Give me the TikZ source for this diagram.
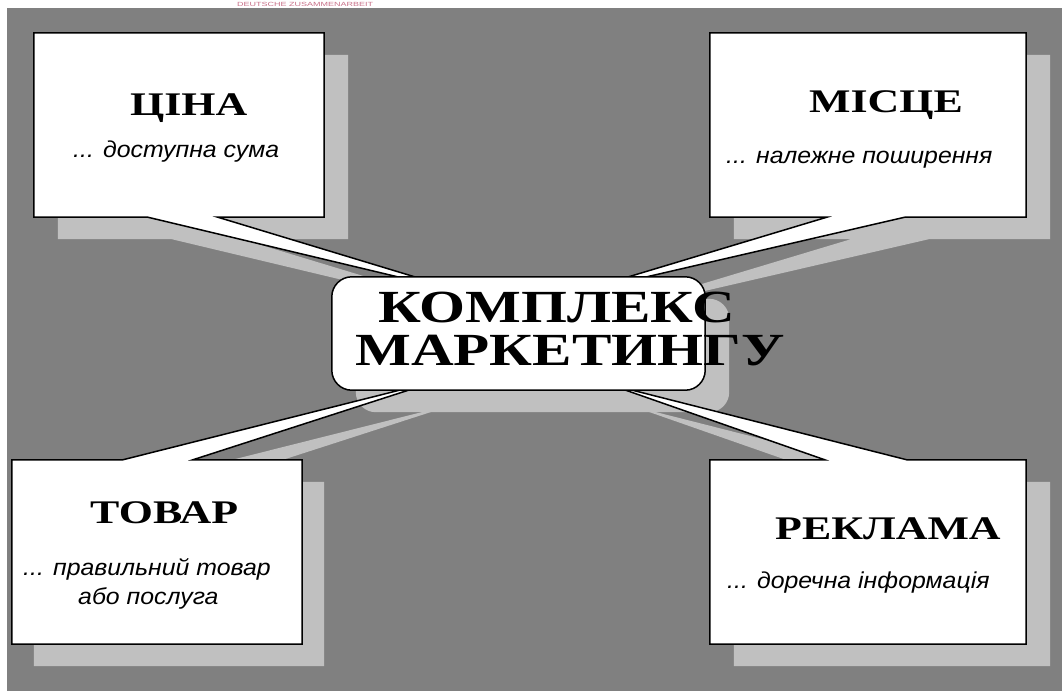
\documentclass[tikz,border=0pt]{standalone}
\usepackage{fontspec}
\usetikzlibrary{calc}
\newfontfamily\ttlfont{Liberation Serif}[FakeStretch=1.33]
\newfontfamily\ctrfont{Liberation Serif}[FakeStretch=1.285]
\newfontfamily\subfont{Liberation Sans}[FakeStretch=1.08]
\newfontfamily\hdrfont{Liberation Sans}[FakeStretch=1.5]
\definecolor{bgcol}{HTML}{808080}
\definecolor{shadecol}{HTML}{C0C0C0}
\definecolor{hdrcol}{HTML}{C87088}
% callout with the wedge on its lower edge
\newcommand\calloutdown[6]{%
  \path[#1] ($(#2.north west)+(#6)$) -- ($(#2.north east)+(#6)$) -- ($(#2.south east)+(#6)$)
    -- ($(#2.south west)+(#4,0)+(#6)$) -- ($(#5)+(#6)$) -- ($(#2.south west)+(#3,0)+(#6)$)
    -- ($(#2.south west)+(#6)$) -- cycle;}
% callout with the wedge on its upper edge
\newcommand\calloutup[6]{%
  \path[#1] ($(#2.south west)+(#6)$) -- ($(#2.south east)+(#6)$) -- ($(#2.north east)+(#6)$)
    -- ($(#2.north west)+(#4,0)+(#6)$) -- ($(#5)+(#6)$) -- ($(#2.north west)+(#3,0)+(#6)$)
    -- ($(#2.north west)+(#6)$) -- cycle;}
\begin{document}
\begin{tikzpicture}[x=1pt,y=-1pt,
  shadowfill/.style={fill=shadecol,draw=none},
  callout/.style={fill=white,draw=black,line width=1.5pt,line join=miter},
  boxnode/.style={draw=none,inner sep=0pt,minimum height=184pt},
  ttl/.style={anchor=base west,inner sep=0pt,font=\ttlfont\bfseries\fontsize{33}{36}\selectfont},
  ctr/.style={anchor=base west,inner sep=0pt,font=\ctrfont\bfseries\fontsize{46}{46}\selectfont},
  sub/.style={anchor=base west,inner sep=0pt,font=\subfont\itshape\fontsize{23}{29}\selectfont},
]
\useasboundingbox (0,0) rectangle (1062,691);
\fill[bgcol] (7,8) rectangle (1062,691);
\node[anchor=base west,inner sep=0pt,text=hdrcol,font=\hdrfont\fontsize{6}{6}\selectfont] (hdr) at (237,6.2) {DEUTSCHE ZUSAMMENARBEIT};

% box placeholders
\node[boxnode,minimum width=290pt] (cena) at (179,125) {};
\node[boxnode,minimum width=316pt] (misce) at (868,125) {};
\node[boxnode,minimum width=290pt] (tovar) at (157,552) {};
\node[boxnode,minimum width=316pt] (reklama) at (868,552) {};
\node[draw=none,inner sep=0pt,minimum width=373pt,minimum height=113pt] (kompl) at (518.5,333.5) {};
\coordinate (tc) at (478,296);
\coordinate (tm) at (568,295);
\coordinate (tt) at (440,380);
\coordinate (tr) at (608,384);

% shadows
\calloutdown{shadowfill}{cena}{114}{184}{tc}{24,22}
\calloutdown{shadowfill}{misce}{117}{195}{tm}{24,22}
\calloutup{shadowfill}{tovar}{111}{181}{tt}{22,22}
\calloutup{shadowfill}{reklama}{115}{197}{tr}{24,22}
\fill[shadecol,rounded corners=20pt] ($(kompl.south west)+(24,22)$) rectangle ($(kompl.north east)+(24,22)$);

% callouts
\calloutdown{callout}{cena}{114}{184}{tc}{0,0}
\calloutdown{callout}{misce}{117}{195}{tm}{0,0}
\calloutup{callout}{tovar}{111}{181}{tt}{0,0}
\calloutup{callout}{reklama}{115}{197}{tr}{0,0}
\draw[callout,rounded corners=20pt] (kompl.south west) rectangle (kompl.north east);

% texts
\node[ttl] (tcena) at (130,115) {ЦІНА};
\node[sub] (scena) at (73,157) {... доступна сума};
\node[ttl] (tmisce) at (809,112) {МІСЦЕ};
\node[sub] (smisce) at (726,163) {... належне поширення};
\node[ttl] (ttovar) at (90,523) {ТОВАР};
\node[sub] (stovar1) at (23,575) {... правильний товар};
\node[sub] (stovar2) at (78,604) {або послуга};
\node[ttl] (treklama) at (775,539) {РЕКЛАМА};
\node[sub] (sreklama) at (727,588) {... доречна інформація};
\node[ctr] (k1) at (378,322) {КОМПЛЕКС};
\node[ctr] (k2) at (355,365) {МАРКЕТИНГУ};
\end{tikzpicture}
\end{document}
